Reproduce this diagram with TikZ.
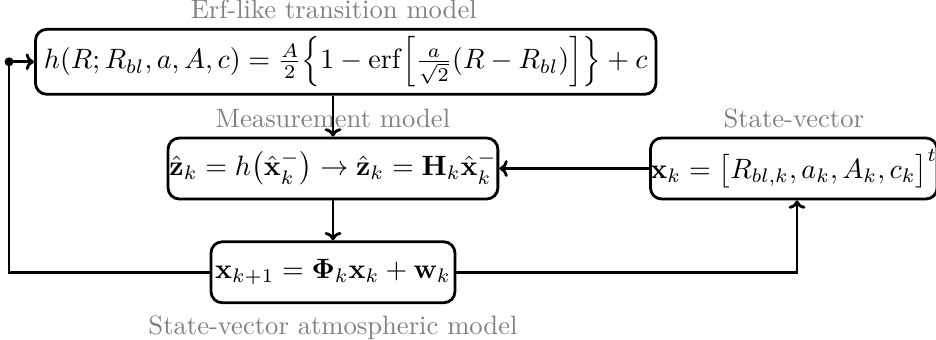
\documentclass[tikz,border=0pt]{standalone}
\usepackage{amsmath}
\usepackage{amssymb}
\usepackage{tikz}
\usetikzlibrary{arrows.meta, positioning}

\begin{document}
\begin{tikzpicture}[
    box/.style={rectangle, rounded corners=4pt, draw=black, line width=1pt,
                text centered, inner xsep=1.5pt, inner ysep=1pt, minimum height=0.765cm},
    tag/.style={font=\fontsize{9.5}{11}\selectfont, text=gray, inner sep=3pt},
    arrow/.style={-{To[length=3pt, width=6pt]}, line width=1pt},
    wire/.style={line width=1pt}
]

\useasboundingbox (-4.179,-2.152) rectangle (7.568,2.115);

\node[box, inner xsep=0.5pt] (meas) {$\hat{\mathbf{z}}_k = h\bigl(\hat{\mathbf{x}}_k^-\bigr) \rightarrow \hat{\mathbf{z}}_k = \mathbf{H}_k\hat{\mathbf{x}}_k^-$};

\node[box, right=1.88cm of meas, inner xsep=0pt] (state)
    {$\mathbf{x}_k = \bigl[R_{bl,k}, a_k, A_k, c_k\bigr]^t$};

\node[box, above=0.514cm of meas, xshift=0.16cm, inner xsep=3pt, inner ysep=0pt, minimum height=0.815cm] (erf)
    {$h(R;R_{bl},a,A,c) = \frac{A}{2}\Bigl\{1-\mathrm{erf}\Bigl[\frac{a}{\sqrt{2}}(R-R_{bl})\Bigr]\Bigr\}+c$};

\node[box, below=0.502cm of meas] (atmo)
    {$\mathbf{x}_{k+1} = \mathbf{\Phi}_k\mathbf{x}_k + \mathbf{w}_k$};

% gray captions
\node[tag, above=0pt of erf, xshift=-0.15cm] (erflabel) {Erf-like transition model};
\node[tag, above=0pt of meas] (measlabel) {Measurement model};
\node[tag, above=0pt of state] (statelabel) {State-vector};
\node[tag, below=1pt of atmo] (atmolabel) {State-vector atmospheric model};

\coordinate[left=0.314cm of erf.west] (loop);

\draw[arrow] (meas.north |- erf.south) -- (meas.north);
\draw[arrow] (state.west) -- (meas.east);
\draw[arrow] (meas.south) -- (atmo.north);
\draw[arrow] (atmo.east) -| ([xshift=0.04cm]state.south);
\draw[wire] (atmo.west) -| (loop);
\draw[arrow] (loop) -- (erf.west);
\fill (loop) circle (1.6pt);

\end{tikzpicture}
\end{document}
